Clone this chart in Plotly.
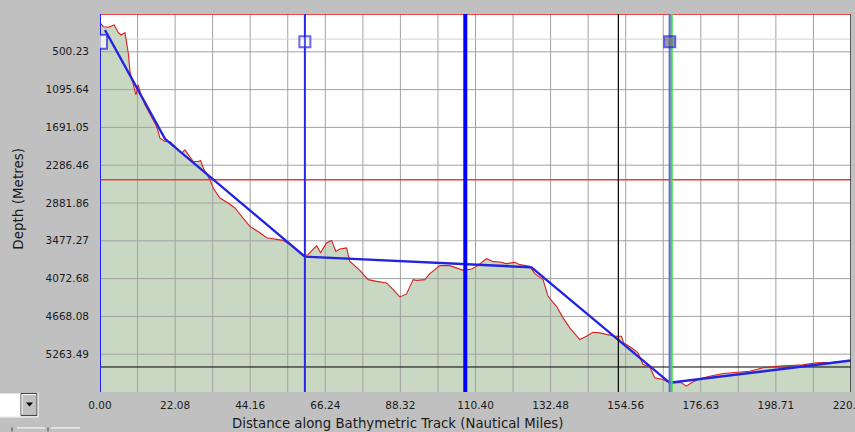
import plotly.graph_objects as go

# ---- axis ticks -------------------------------------------------------------
x_tick_labels = ["0.00", "22.08", "44.16", "66.24", "88.32", "110.40",
                 "132.48", "154.56", "176.63", "198.71", "220.80"]
y_tick_labels = ["500.23", "1095.64", "1691.05", "2286.46", "2881.86",
                 "3477.27", "4072.68", "4668.08", "5263.49"]
depth_top = -95.18
depth_bottom = 5858.92
x_max = 220.80

# ---- bathymetric profile (distance in nautical miles, depth in metres) ------
profile_x = [0.00, 0.97, 2.44, 4.20, 5.38, 6.17, 7.35, 7.85, 8.32, 8.82,
             10.08, 10.58, 11.25, 12.05, 13.22, 15.19, 16.66, 17.63, 19.10, 20.57,
             22.54, 24.01, 24.98, 25.95, 27.42, 28.89, 29.59, 30.36, 32.32, 33.29,
             35.26, 37.70, 39.67, 41.64, 44.08, 47.02, 48.99, 53.78, 56.71, 59.65,
             61.12, 63.68, 64.86, 66.62, 68.09, 69.35, 70.53, 72.50, 73.46, 76.40,
             78.84, 81.31, 84.25, 86.19, 88.16, 90.13, 92.07, 93.07, 95.50, 96.97,
             99.91, 102.85, 106.76, 109.23, 110.70, 113.64, 115.60, 117.54, 119.51, 121.95,
             123.42, 126.36, 127.83, 130.27, 131.74, 134.21, 136.15, 138.11, 141.05, 143.02,
             144.96, 146.93, 149.37, 151.34, 153.31, 153.98, 156.25, 158.19, 159.65, 161.62,
             163.09, 165.53, 167.50, 170.94, 172.41, 173.88, 176.31, 179.25, 183.16, 188.07,
             191.01, 194.92, 198.85, 202.76, 206.67, 210.61, 215.49, 220.80]
profile_depth = [42, 105, 114, 78, 199, 235, 199, 340, 523, 812,
                 1048, 1179, 1022, 1179, 1336, 1520, 1678, 1860, 1914, 1914,
                 2017, 2096, 2044, 2123, 2228, 2228, 2212, 2332, 2516, 2647,
                 2804, 2883, 2961, 3093, 3251, 3350, 3428, 3471, 3565, 3712,
                 3696, 3554, 3664, 3512, 3471, 3644, 3606, 3590, 3801, 3943,
                 4089, 4116, 4141, 4246, 4361, 4314, 4089, 4100, 4089, 3995,
                 3869, 3869, 3943, 3921, 3880, 3759, 3806, 3811, 3837, 3817,
                 3853, 3880, 3995, 4089, 4352, 4509, 4691, 4849, 5033, 4981,
                 4918, 4927, 4953, 4981, 4981, 5085, 5163, 5242, 5426, 5462,
                 5635, 5662, 5714, 5714, 5767, 5714, 5651, 5610, 5568, 5547,
                 5531, 5478, 5453, 5442, 5431, 5399, 5390, 5363]

# ---- simplified track (straight segments between control points) -----------
track_x = [1.47, 19.10, 60.24, 126.86, 167.50, 220.80]
track_depth = [157, 1871, 3727, 3895, 5714, 5363]

# ---- control-point handles -------------------------------------------------
handle_x = [0.00, 60.24, 167.50]
handle_depth = [340, 340, 340]

# ---- cursor / reference lines ----------------------------------------------
cursor_thin_x = 60.24
cursor_thick_x = 107.40
cursor_black_x = 152.40
cursor_end_x = 167.50
cursor_green_x = 168.10
level_red = 2516
level_black = 5465
level_pale = 300

BG = "#c0c0c0"
FILL = "#c8d8c3"
FONT = "DejaVu Sans, Verdana, sans-serif"

W, H = 855, 432
ML, MR, MT, MB = 100, 4, 14, 39.5


def px(x):
    return (x - ML) / (W - ML - MR)


def py(y):
    return (H - MB - y) / (H - MT - MB)


x_ticks = [float(t) for t in x_tick_labels]
y_ticks = [float(t) for t in y_tick_labels]
x_grid = []
for a, b in zip(x_ticks[:-1], x_ticks[1:]):
    x_grid += [a, (a + b) / 2]
x_grid.append(x_ticks[-1])
y_grid = [depth_top] + y_ticks + [depth_bottom]

fig = go.Figure()

# seabed fill
fig.add_trace(go.Scatter(x=[0, x_max], y=[depth_bottom, depth_bottom], mode="lines",
                         line=dict(width=0), showlegend=False, hoverinfo="skip"))
fig.add_trace(go.Scatter(x=profile_x, y=profile_depth, mode="lines", fill="tonexty",
                         fillcolor=FILL, line=dict(width=0), showlegend=False,
                         hoverinfo="skip"))


def seg_lines(coords, vertical):
    xs, ys = [], []
    for c in coords:
        if vertical:
            xs += [c, c, None]
            ys += [depth_top, depth_bottom, None]
        else:
            xs += [0, x_max, None]
            ys += [c, c, None]
    return xs, ys


# grid drawn over the fill
gx, gy = seg_lines(x_grid, True)
fig.add_trace(go.Scatter(x=gx, y=gy, mode="lines", line=dict(color="#a2a2a2", width=1),
                         showlegend=False, hoverinfo="skip"))
gx, gy = seg_lines(y_grid[1:-1], False)
fig.add_trace(go.Scatter(x=gx, y=gy, mode="lines", line=dict(color="#a2a2a2", width=1),
                         showlegend=False, hoverinfo="skip"))
gx, gy = seg_lines([level_pale], False)
fig.add_trace(go.Scatter(x=gx, y=gy, mode="lines", line=dict(color="#d2d2d2", width=1),
                         showlegend=False, hoverinfo="skip"))


def hline(level, color, width):
    fig.add_trace(go.Scatter(x=[0, x_max], y=[level, level], mode="lines",
                             line=dict(color=color, width=width),
                             showlegend=False, hoverinfo="skip", cliponaxis=False))


def vline(pos, color, width):
    fig.add_trace(go.Scatter(x=[pos, pos], y=[depth_top, depth_bottom], mode="lines",
                             line=dict(color=color, width=width),
                             showlegend=False, hoverinfo="skip", cliponaxis=False))


hline(level_red, "#f03a3a", 1.5)
hline(level_black, "#000000", 1)
hline(depth_top, "#e01010", 1.5)

# measured profile and simplified track
fig.add_trace(go.Scatter(x=profile_x, y=profile_depth, mode="lines",
                         line=dict(color="#d82020", width=1.1),
                         showlegend=False, hoverinfo="skip"))
fig.add_trace(go.Scatter(x=track_x, y=track_depth, mode="lines",
                         line=dict(color="#2323e0", width=2.4),
                         showlegend=False, hoverinfo="skip"))

vline(0, "#2020f0", 2)
vline(x_max, "#303030", 1.5)
vline(cursor_black_x, "#000000", 1.2)
vline(cursor_thin_x, "#2828e4", 2)
vline(cursor_thick_x, "#0000ff", 4)
vline(cursor_end_x, "#6464dc", 2.2)
vline(cursor_green_x, "#3ee03e", 2)

fig.add_trace(go.Scatter(
    x=handle_x, y=handle_depth, mode="markers", showlegend=False, hoverinfo="skip",
    marker=dict(symbol="square", size=[14, 11, 11],
                color=["#ffffff", "rgba(255,255,255,0.25)", "#6f6f78"],
                line=dict(color=["#2a2ae6", "#2a2ae6", "#1c1cdc"], width=2))))

# dropdown box and button strip below the y axis
shapes = [
    dict(type="rect", xref="paper", yref="paper", x0=px(-2), x1=px(21), y0=py(417), y1=py(394),
         fillcolor="#ffffff", line=dict(width=0), layer="above"),
    dict(type="rect", xref="paper", yref="paper", x0=px(21), x1=px(37), y0=py(416), y1=py(394),
         fillcolor=BG, line=dict(color="#404040", width=1), layer="above"),
    dict(type="line", xref="paper", yref="paper", x0=px(22), x1=px(36), y0=py(395), y1=py(395),
         line=dict(color="#ffffff", width=1), layer="above"),
    dict(type="line", xref="paper", yref="paper", x0=px(22), x1=px(22), y0=py(395), y1=py(415),
         line=dict(color="#ffffff", width=1), layer="above"),
    dict(type="path", xref="paper", yref="paper",
         path=f"M {px(26)},{py(403)} L {px(33)},{py(403)} L {px(29.5)},{py(407)} Z",
         fillcolor="#000000", line=dict(width=0), layer="above"),
    dict(type="line", xref="paper", yref="paper", x0=px(-2), x1=px(38), y0=py(417.5), y1=py(417.5),
         line=dict(color="#ffffff", width=1), layer="above"),
    dict(type="line", xref="paper", yref="paper", x0=px(38), x1=px(38), y0=py(393), y1=py(417.5),
         line=dict(color="#ffffff", width=1), layer="above"),
    dict(type="line", xref="paper", yref="paper", x0=px(17), x1=px(45), y0=py(428.5), y1=py(428.5),
         line=dict(color="#ffffff", width=1), layer="above"),
    dict(type="line", xref="paper", yref="paper", x0=px(51), x1=px(80), y0=py(428.5), y1=py(428.5),
         line=dict(color="#ffffff", width=1), layer="above"),
    dict(type="line", xref="paper", yref="paper", x0=px(12), x1=px(12), y0=py(428), y1=py(432),
         line=dict(color="#404040", width=1), layer="above"),
    dict(type="line", xref="paper", yref="paper", x0=px(48), x1=px(48), y0=py(428), y1=py(432),
         line=dict(color="#404040", width=1), layer="above"),
]

annotations = [
    dict(text="Distance along Bathymetric Track (Nautical Miles)", xref="paper", yref="paper",
         x=px(397), y=py(424), xanchor="center", yanchor="middle", showarrow=False,
         font=dict(family=FONT, size=13.3, color="#1a1a1a")),
    dict(text="Depth (Metres)", xref="paper", yref="paper", x=px(18), y=py(199),
         xanchor="center", yanchor="middle", showarrow=False, textangle=-90,
         font=dict(family=FONT, size=13.5, color="#1a1a1a")),
]

fig.update_layout(
    width=W, height=H,
    margin=dict(l=ML, r=MR, t=MT, b=MB, pad=0, autoexpand=False),
    paper_bgcolor=BG, plot_bgcolor="#ffffff",
    showlegend=False, hovermode=False,
    shapes=shapes, annotations=annotations,
    font=dict(family=FONT, size=10.5, color="#1a1a1a"),
    xaxis=dict(range=[0, x_max + 0.001], tickvals=x_ticks, ticktext=x_tick_labels,
               showgrid=False, zeroline=False, showline=False, ticks="",
               ticklabelstandoff=5, ticklabeloverflow="allow", automargin=False,
               fixedrange=True),
    yaxis=dict(range=[depth_bottom, depth_top], tickvals=y_ticks, ticktext=y_tick_labels,
               showgrid=False, zeroline=False, showline=False, ticks="",
               ticklabelstandoff=10, automargin=False, fixedrange=True),
)

fig.write_html("out.html", config={"displayModeBar": False, "staticPlot": True})
